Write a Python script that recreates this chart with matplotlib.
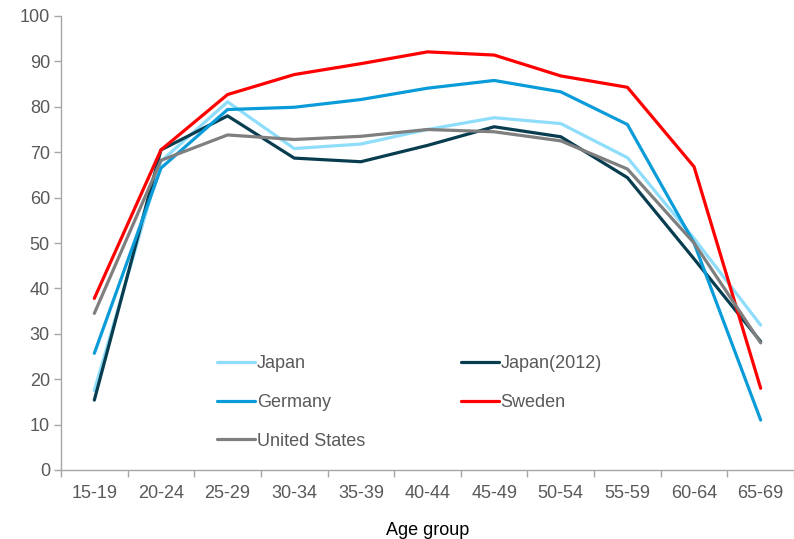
import numpy as np
import matplotlib
matplotlib.use("Agg")
from matplotlib import pyplot as plt

plt.rcParams['font.family'] = ['Liberation Sans', 'DejaVu Sans']

# age groups and participation rates (%)
ages = ['15-19', '20-24', '25-29', '30-34', '35-39', '40-44',
        '45-49', '50-54', '55-59', '60-64', '65-69']
japan = [17.5, 68.0, 81.1, 70.8, 71.8, 75.0, 77.6, 76.3, 68.8, 51.0, 31.9]
japan_2012 = [15.4, 70.5, 78.0, 68.7, 67.9, 71.5, 75.6, 73.4, 64.4, 46.5, 28.3]
germany = [25.7, 66.5, 79.4, 79.9, 81.6, 84.1, 85.8, 83.3, 76.1, 50.0, 11.0]
sweden = [37.8, 70.5, 82.7, 87.1, 89.5, 92.1, 91.4, 86.8, 84.3, 66.8, 18.0]
usa = [34.5, 68.2, 73.8, 72.8, 73.5, 75.0, 74.5, 72.5, 66.3, 50.0, 28.0]

series = [('Japan', japan, '#8EDDFA'),
          ('Japan(2012)', japan_2012, '#083D50'),
          ('Germany', germany, '#0A9CD9'),
          ('Sweden', sweden, '#FF0000'),
          ('United States', usa, '#7F7F7F')]

fig = plt.figure(figsize=(7.94, 5.39), dpi=100)
ax = fig.add_axes([61/794, 1 - 470/539, 733/794, 454/539])

x = np.arange(len(ages))
lines = {}
for name, vals, col in series:
    lines[name], = ax.plot(x, vals, color=col, lw=2.3, label=name,
                           solid_capstyle='round')

ax.set_xlim(-0.5, len(ages) - 0.5)
ax.set_ylim(0, 100)
ax.set_yticks(range(0, 101, 10))
ax.set_xticks(x)
ax.set_xticklabels(ages)
ax.set_xticks(np.arange(-0.5, len(ages)), minor=True)
ax.tick_params(axis='x', which='major', length=0, pad=11)
ax.tick_params(axis='x', which='minor', length=5, color='#A6A6A6', width=1)
ax.tick_params(axis='y', length=5, color='#A6A6A6', width=1, pad=3)
ax.tick_params(labelsize=13, labelcolor='#595959')

for s in ['top', 'right']:
    ax.spines[s].set_visible(False)
for s in ['left', 'bottom']:
    ax.spines[s].set_color('#A6A6A6')
    ax.spines[s].set_linewidth(1)

ax.set_xlabel('Age group', fontsize=13, color='black', labelpad=14)

# row-wise legend order: Japan, Japan(2012) / Germany, Sweden / United States
order = ['Japan', 'Germany', 'United States', 'Japan(2012)', 'Sweden']
leg = ax.legend([lines[n] for n in order], order, ncol=2, loc='upper left',
                bbox_to_anchor=(201/794, 1 - 339/539),
                bbox_transform=fig.transFigure,
                frameon=False, fontsize=13, handlelength=2.1,
                handletextpad=0.1, columnspacing=5.3, labelspacing=1.2)
for t in leg.get_texts():
    t.set_color('#595959')

fig.savefig('out.png', dpi=100)
